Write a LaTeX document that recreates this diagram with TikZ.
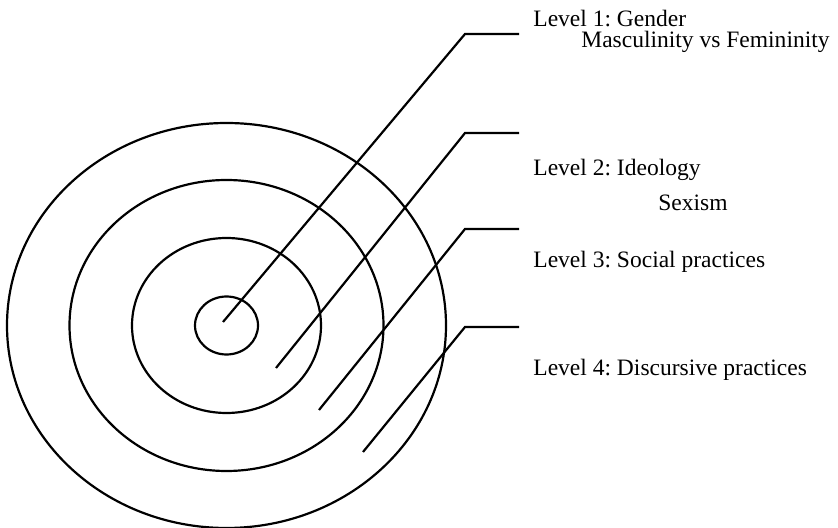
\documentclass[tikz,border=0pt]{standalone}
\usepackage{fontspec}
\setmainfont{Liberation Serif}
\frenchspacing
\usetikzlibrary{positioning}
\tikzset{
	ring/.style={draw, line width=1.1pt},
	leader/.style={draw, line width=1.1pt, line join=miter},
	level/.style={
		anchor=base west, inner sep=0pt,
		font=\fontsize{11.8}{14}\selectfont
	}
}

\begin{document}
\begin{tikzpicture}[x=0.5bp, y=-0.5bp]
	\useasboundingbox (0,0) rectangle (838,528);
	\coordinate (centre) at (226.5,325.5);
	% the four levels, outermost first
	\draw[ring] (centre) ellipse [x radius=219.5, y radius=202.5];
	\draw[ring] (centre) ellipse [x radius=157, y radius=145.5];
	\draw[ring] (centre) ellipse [x radius=94.5, y radius=87.5];
	\draw[ring] (centre) ellipse [x radius=31.5, y radius=29];
	% where each leader starts and bends
	\coordinate (inA) at (223,322);
	\coordinate (inB) at (276,368);
	\coordinate (inC) at (319,410);
	\coordinate (inD) at (363,452);
	\coordinate (kneeA) at (465,34);
	\coordinate (kneeB) at (465,133);
	\coordinate (kneeC) at (465,229);
	\coordinate (kneeD) at (465,327);
	\coordinate (endA) at (519,34);
	\coordinate (endB) at (519,133);
	\coordinate (endC) at (519,229);
	\coordinate (endD) at (519,327);
	\draw[leader] (inA) -- (kneeA) -- (endA);
	\draw[leader] (inB) -- (kneeB) -- (endB);
	\draw[leader] (inC) -- (kneeC) -- (endC);
	\draw[leader] (inD) -- (kneeD) -- (endD);
	% labels
	\node[level] (gender) at (533,27) {Level 1: Gender};
	\node[level] (masc) at (581,48) {Masculinity vs Femininity};
	\node[level] (ideology) at (533,176) {Level 2: Ideology};
	\node[level] (sexism) at (658,211) {Sexism};
	\node[level] (social) at (533,268) {Level 3: Social practices};
	\node[level] (discursive) at (533,376) {Level 4: Discursive practices};
\end{tikzpicture}
\end{document}
